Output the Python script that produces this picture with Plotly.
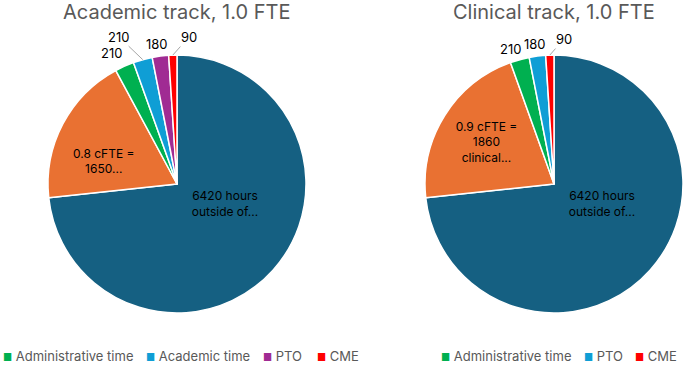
import math
import plotly.graph_objects as go

# ---------------- Data ----------------
acad_labels = ["Hours outside of work", "0.8 cFTE = 1650 clinical hours", "Administrative time", "Academic time", "PTO", "CME"]
acad_values = [6420, 1650, 210, 210, 180, 90]
acad_inside = ["6420 hours<br>outside of...", "0.8 cFTE =<br>1650...", "", "", "", ""]
acad_colors = ["#156082", "#E97132", "#00B050", "#0F9ED5", "#A02B93", "#FF0000"]

clin_labels = ["Hours outside of work", "0.9 cFTE = 1860 clinical hours", "Administrative time", "PTO", "CME"]
clin_values = [6420, 1860, 210, 180, 90]
clin_inside = ["6420 hours<br>outside of...", "0.9 cFTE =<br>1860<br>clinical...", "", "", ""]
clin_colors = ["#156082", "#E97132", "#00B050", "#0F9ED5", "#FF0000"]

acad_legend = ["Administrative time", "Academic time", "PTO", "CME"]
acad_legend_colors = ["#00B050", "#0F9ED5", "#A02B93", "#FF0000"]
clin_legend = ["Administrative time", "PTO", "CME"]
clin_legend_colors = ["#00B050", "#0F9ED5", "#FF0000"]

# ---------------- Style / layout ----------------
W, H = 685, 365
FONT = "Inter, Open Sans, sans-serif"
GRAY = "#595959"
BLANK = "<br>&nbsp;"

# pie domains in pixels (left, top, size)
acad_dom_px = (48, 55, 258)
clin_dom_px = (425, 55, 258)

# vertical nudges of inside labels (blank lines before / after the text)
acad_pad = [(0, 3), (2, 0), (0, 0), (0, 0), (0, 0), (0, 0)]
clin_pad = [(0, 3), (0, 0), (0, 0), (0, 0), (0, 0)]

# outside-label offsets (pixels, from slice edge midpoint) and whether a leader line is drawn
acad_lbl_off = [None, None, (-13, -13), (-24, -23), (-3, -12), (16, -18)]
acad_lbl_line = [False, False, False, True, False, True]
clin_lbl_off = [None, None, (-9, -11), (-2, -12), (14, -16)]
clin_lbl_line = [False, False, False, False, True]

# legend item left edges (pixels)
acad_leg_x = [1, 144, 261, 315]
clin_leg_x = [439, 582, 633]
LEG_Y = 356


def dom(px):
    l, t, s = px
    return dict(x=[l / W, (l + s) / W], y=[1 - (t + s) / H, 1 - t / H])


def padded(texts, pads):
    out = []
    for t, (a, b) in zip(texts, pads):
        if not t:
            out.append(t)
            continue
        out.append("&nbsp;<br>" * a + t + BLANK * b)
    return out


def pie(labels, values, inside, colors, dpx):
    return go.Pie(
        labels=labels, values=values, text=inside,
        textinfo="text", sort=False, direction="clockwise", rotation=0,
        marker=dict(colors=colors, line=dict(color="white", width=1.5)),
        textposition="inside", insidetextorientation="horizontal",
        textfont=dict(family=FONT, size=12, color="black"),
        domain=dom(dpx), showlegend=False, hoverinfo="label+value",
    )


def outside_labels(values, offs, lines, dpx):
    l, t, s = dpx
    cx, cy, r = l + s / 2, t + s / 2, s / 2
    total = sum(values)
    anns = []
    cum = 0
    for v, off, ln in zip(values, offs, lines):
        mid = (cum + v / 2) / total * 2 * math.pi
        cum += v
        if off is None:
            continue
        ex = cx + r * math.sin(mid)
        ey = cy - r * math.cos(mid)
        anns.append(dict(
            text=str(v), x=ex / W, y=1 - ey / H, xref="paper", yref="paper",
            showarrow=True, ax=off[0], ay=off[1], axref="pixel", ayref="pixel",
            arrowhead=0, arrowwidth=1, standoff=0, startstandoff=0,
            arrowcolor="#A6A6A6" if ln else "rgba(0,0,0,0)",
            font=dict(family=FONT, size=13, color="black"),
        ))
    return anns


def legend_items(names, colors, xs):
    anns = []
    for n, c, x in zip(names, colors, xs):
        anns.append(dict(
            text=f"<span style='color:{c};font-size:10px'>■</span> {n}",
            x=x / W, y=1 - LEG_Y / H, xref="paper", yref="paper",
            xanchor="left", yanchor="middle", showarrow=False,
            font=dict(family=FONT, size=13, color=GRAY),
        ))
    return anns


fig = go.Figure()
fig.add_trace(pie(acad_labels, acad_values, padded(acad_inside, acad_pad), acad_colors, acad_dom_px))
fig.add_trace(pie(clin_labels, clin_values, padded(clin_inside, clin_pad), clin_colors, clin_dom_px))

annotations = []
annotations += outside_labels(acad_values, acad_lbl_off, acad_lbl_line, acad_dom_px)
annotations += outside_labels(clin_values, clin_lbl_off, clin_lbl_line, clin_dom_px)
annotations += legend_items(acad_legend, acad_legend_colors, acad_leg_x)
annotations += legend_items(clin_legend, clin_legend_colors, clin_leg_x)
annotations += [
    dict(text="Academic track, 1.0 FTE", x=176 / W, y=1 - 12 / H, xref="paper", yref="paper",
         xanchor="center", yanchor="middle", showarrow=False,
         font=dict(family=FONT, size=20, color=GRAY)),
    dict(text="Clinical track, 1.0 FTE", x=554 / W, y=1 - 12 / H, xref="paper", yref="paper",
         xanchor="center", yanchor="middle", showarrow=False,
         font=dict(family=FONT, size=20, color=GRAY)),
]

fig.update_layout(
    width=W, height=H,
    margin=dict(l=0, r=0, t=0, b=0),
    paper_bgcolor="white", plot_bgcolor="white",
    font=dict(family=FONT, size=12, color=GRAY),
    showlegend=False,
    annotations=annotations,
)

fig.write_html("out.html", config={"displayModeBar": False},
               post_script="document.body.style.margin='0';document.body.style.overflow='hidden';")
